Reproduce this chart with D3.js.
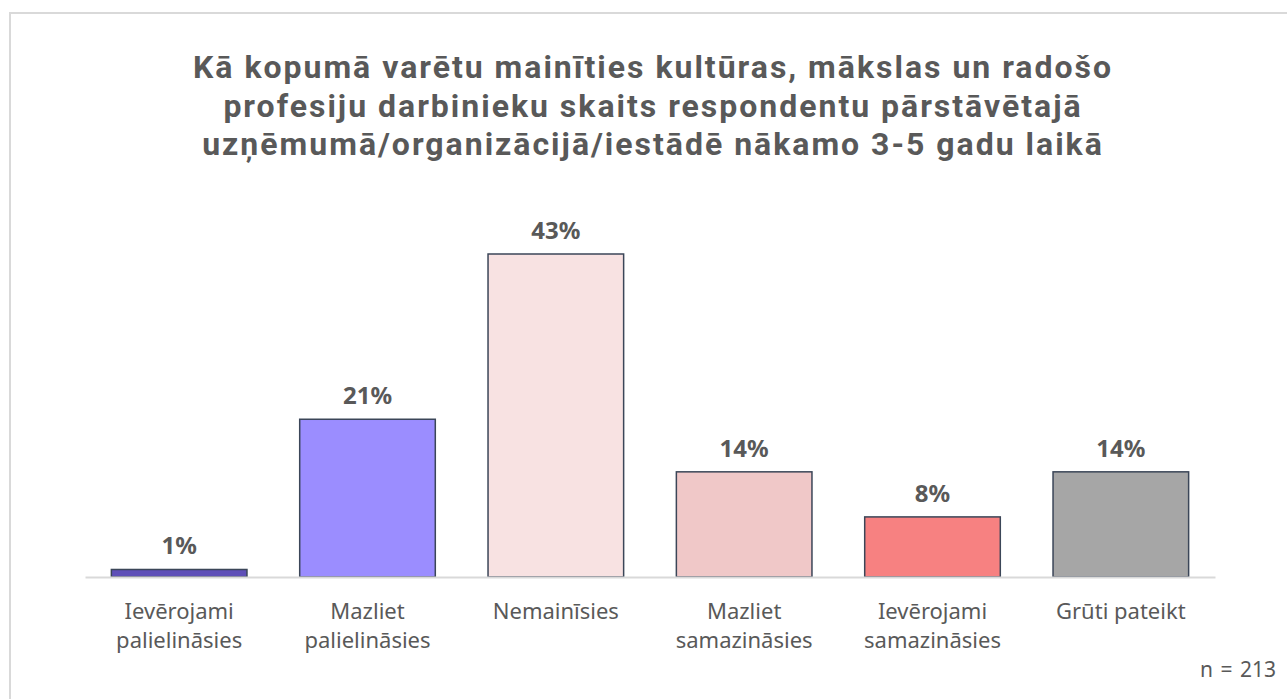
<!DOCTYPE html>
<html>
<head>
<meta charset="utf-8">
<script src="https://cdn.jsdelivr.net/npm/d3@7"></script>
<style>
  body { margin: 0; background: #fff; }
  svg text { font-family: "Noto Sans", "Open Sans", sans-serif; fill: #595959; }
  svg text.title { font-family: Roboto, "Noto Sans", sans-serif; }
</style>
</head>
<body>
<div id="chart"></div>
<script>
const titleLines = [
  "Kā kopumā varētu mainīties kultūras, mākslas un radošo",
  "profesiju darbinieku skaits respondentu pārstāvētajā",
  "uzņēmumā/organizācijā/iestādē nākamo 3-5 gadu laikā"
];
const categories = [
  ["Ievērojami", "palielināsies"],
  ["Mazliet", "palielināsies"],
  ["Nemainīsies"],
  ["Mazliet", "samazināsies"],
  ["Ievērojami", "samazināsies"],
  ["Grūti pateikt"]
];
const values = [1, 21, 43, 14, 8, 14];
const colors = ["#5f50b8", "#9b8dff", "#f8e2e2", "#f0c8c8", "#f78181", "#a6a6a6"];
const note = "n = 213";

const width = 1287, height = 699;
const margin = { top: 254, right: 72, bottom: 122, left: 85 };

const svg = d3.select("#chart")
  .append("svg")
  .attr("width", width)
  .attr("height", height);

// frame
svg.append("rect")
  .attr("x", 10).attr("y", 13)
  .attr("width", width + 20).attr("height", height + 20)
  .attr("fill", "none")
  .attr("stroke", "#d9d9d9")
  .attr("stroke-width", 2);

// title, one text per line
const titles = svg.selectAll(".title")
  .data(titleLines)
  .enter()
  .append("text")
  .attr("class", "title")
  .attr("x", 653)
  .attr("y", (_, i) => 78 + i * 38.5)
  .attr("text-anchor", "middle")
  .style("font-weight", "bold")
  .style("font-size", "32px")
  .text(d => d);

// stretch letter spacing so the first line is ~920px wide like the original
const w0 = titles.node().getComputedTextLength();
const ls = (920 - w0) / titleLines[0].length;
titles.style("letter-spacing", `${ls}px`);

const xScale = d3.scaleBand()
  .domain(d3.range(values.length))
  .range([margin.left, width - margin.right])
  .paddingInner(0.28)
  .paddingOuter(0.14);

const yScale = d3.scaleLinear()
  .domain([0, 43])
  .range([height - margin.bottom, margin.top]);

svg.selectAll(".bar")
  .data(values)
  .enter()
  .append("rect")
  .attr("class", "bar")
  .attr("x", (_, i) => xScale(i))
  .attr("y", d => yScale(d))
  .attr("width", xScale.bandwidth())
  .attr("height", d => yScale(0) - yScale(d))
  .attr("fill", (_, i) => colors[i])
  .attr("stroke", "#3b4658")
  .attr("stroke-width", 1.5);

// baseline axis
const xAxis = svg.append("g")
  .attr("transform", `translate(0, ${yScale(0)})`)
  .call(d3.axisBottom(xScale).tickSize(0).tickFormat(""));
xAxis.select(".domain").attr("stroke", "#d9d9d9").attr("stroke-width", 2);

// category labels
svg.selectAll(".cat")
  .data(categories)
  .enter()
  .append("text")
  .attr("class", "cat")
  .attr("text-anchor", "middle")
  .style("font-size", "22px")
  .selectAll("tspan")
  .data((d, i) => d.map(t => ({ t, i })))
  .enter()
  .append("tspan")
  .attr("x", d => xScale(d.i) + xScale.bandwidth() / 2)
  .attr("y", (d, j) => 619 + j * 29)
  .text(d => d.t);

// value labels
svg.selectAll(".val")
  .data(values)
  .enter()
  .append("text")
  .attr("class", "val")
  .attr("text-anchor", "middle")
  .style("font-size", "24px")
  .style("font-weight", "bold")
  .attr("x", (_, i) => xScale(i) + xScale.bandwidth() / 2)
  .attr("y", d => yScale(d) - 15)
  .text(d => `${d}%`);

svg.append("text")
  .attr("x", 1276)
  .attr("y", 677)
  .attr("text-anchor", "end")
  .style("font-size", "21px")
  .style("word-spacing", "2px")
  .text(note);
</script>
</body>
</html>
